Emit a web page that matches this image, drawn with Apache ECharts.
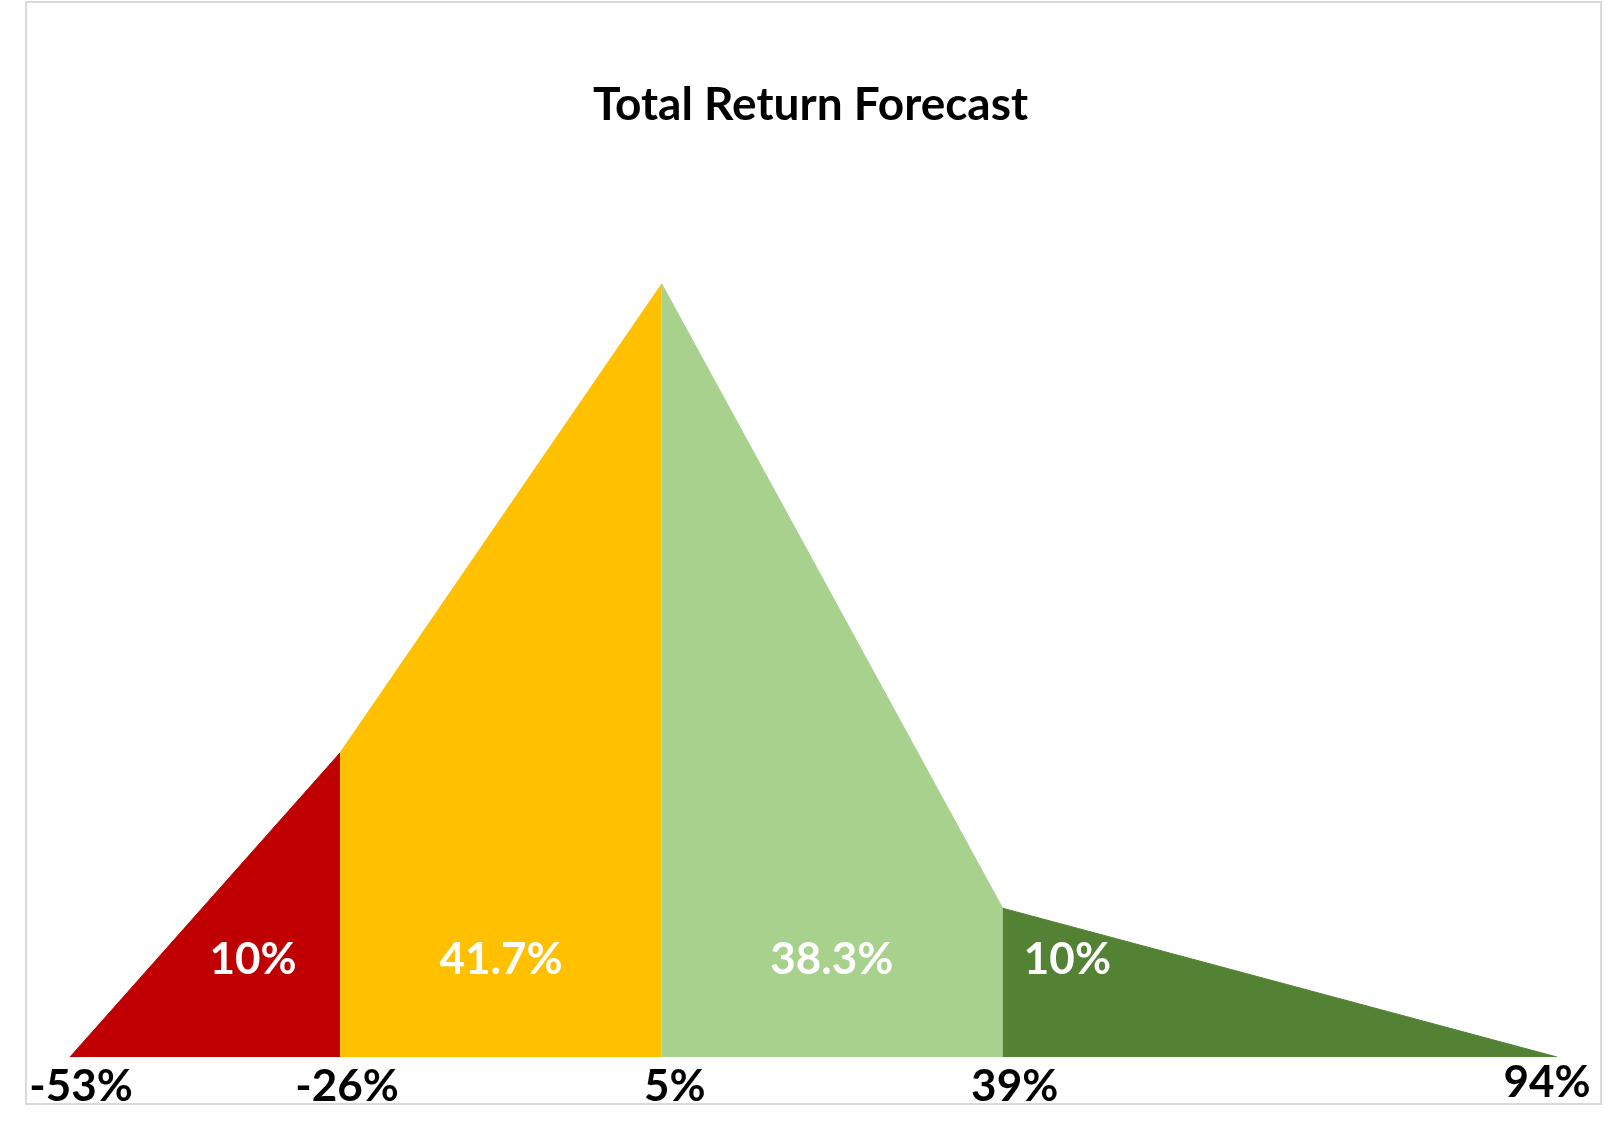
<!DOCTYPE html>
<html>
<head>
<meta charset="utf-8">
<script src="https://cdn.jsdelivr.net/npm/echarts@6/dist/echarts.min.js"></script>
<style>
html,body{margin:0;padding:0;background:#fff;}
#chart{width:1621px;height:1144px;}
</style>
</head>
<body>
<div id="chart"></div>
<script>
// ---- data ----
const returnPoints = [-53, -26.3, 5.5, 39.2, 94];          // x positions (total return, %)
const densityValues = [0, 0.74, 1.881, 0.362, 0];          // curve heights at those points
const tickLabels = ['-53%', '-26%', '5%', '39%', '94%'];
const segmentNames = ['Bottom 10%', 'Lower', 'Upper', 'Top 10%'];
const segmentShares = ['10%', '41.7%', '38.3%', '10%'];
const segmentColors = ['#C00000', '#FFC000', '#A9D18E', '#548235'];

// ---- layout (not data) ----
const FONT = 'Lato';
const shareLabelX = [-34.9, -10.4, 22.3, 45.6];
const shareLabelY = 0.236;
const tickLabelOffsets = [[11, 0], [7, 0], [13, 0], [12, 0], [-10, -4]];

const series = [];
for (let i = 0; i < segmentNames.length; i++) {
  series.push({
    name: segmentNames[i],
    type: 'line',
    data: [[returnPoints[i], densityValues[i]], [returnPoints[i + 1], densityValues[i + 1]]],
    symbol: 'none',
    silent: true,
    lineStyle: { width: 1, color: segmentColors[i] },
    areaStyle: { color: segmentColors[i], opacity: 1 },
    z: 2
  });
}
series.push({
  name: 'shares',
  type: 'scatter',
  symbolSize: 0,
  silent: true,
  itemStyle: { opacity: 1 },
  data: segmentShares.map((s, i) => ({ value: [shareLabelX[i], shareLabelY] })),
  label: {
    show: true,
    position: 'inside',
    formatter: p => segmentShares[p.dataIndex],
    color: '#FFFFFF',
    opacity: 1,
    fontFamily: FONT,
    fontWeight: 'bold',
    fontSize: 44
  },
  z: 5
});
series.push({
  name: 'ticks',
  type: 'scatter',
  symbolSize: 0,
  silent: true,
  itemStyle: { opacity: 1 },
  data: returnPoints.map((x, i) => ({
    value: [x, 0],
    label: { offset: tickLabelOffsets[i] }
  })),
  label: {
    show: true,
    position: 'bottom',
    distance: 8,
    formatter: p => tickLabels[p.dataIndex],
    color: '#000000',
    opacity: 1,
    fontFamily: FONT,
    fontWeight: 'bold',
    fontSize: 44
  },
  z: 5
});

const chart = echarts.init(document.getElementById('chart'), null, { renderer: 'canvas' });
chart.setOption({
  animation: false,
  backgroundColor: '#FFFFFF',
  title: {
    text: 'Total Return Forecast',
    left: 'center',
    top: 77,
    textStyle: { fontFamily: FONT, fontWeight: 'bold', fontSize: 46, color: '#000000' }
  },
  graphic: [{
    type: 'rect',
    shape: { x: 26, y: 2, width: 1575, height: 1102 },
    style: { fill: 'none', stroke: '#D9D9D9', lineWidth: 2 },
    silent: true,
    z: -1
  }],
  grid: { left: 70, right: 64, top: 235, bottom: 87 },
  xAxis: {
    type: 'value',
    min: -53,
    max: 94,
    show: false
  },
  yAxis: {
    type: 'value',
    min: 0,
    max: 2,
    show: false
  },
  series: series
});
</script>
</body>
</html>
